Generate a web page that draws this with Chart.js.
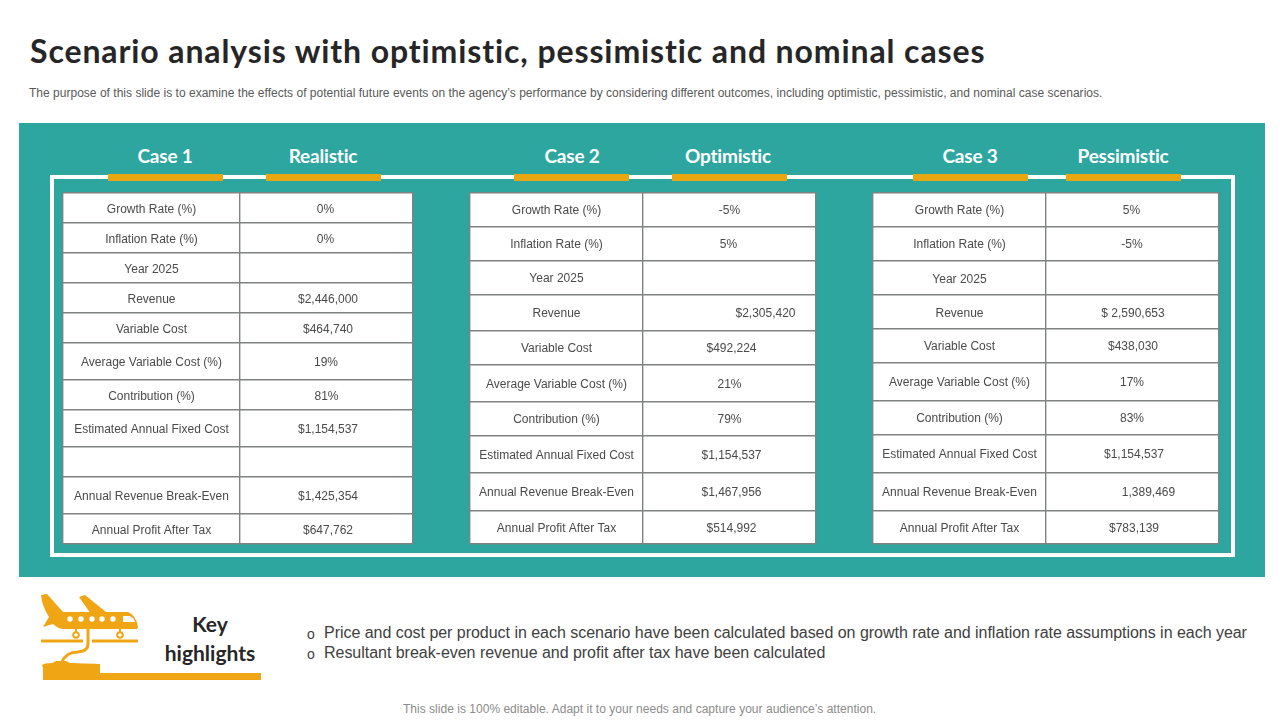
<!DOCTYPE html>
<html><head><meta charset="utf-8">
<script src="https://cdn.jsdelivr.net/npm/chart.js@4"></script>
<style>
html,body{margin:0;padding:0;background:#fff;width:1280px;height:720px;overflow:hidden}
.t{position:absolute;white-space:nowrap;line-height:1}
.p{position:absolute}
canvas{position:absolute}
.head{color:#fff;font:700 19px Lato,sans-serif;transform:translateX(-50%);top:144px;letter-spacing:-.2px}
.bar{position:absolute;top:174px;height:7px;width:115px;background:#E8A710}
</style></head><body>
<div class="t" id="title" style="left:30px;top:31px;font:700 32px Lato,sans-serif;color:#262626;letter-spacing:.89px">Scenario analysis with optimistic, pessimistic and nominal cases</div>
<div class="t" style="left:29px;top:86px;font:12px 'Liberation Sans',sans-serif;color:#595959;letter-spacing:.017px">The purpose of this slide is to examine the effects of potential future events on the agency’s performance by considering different outcomes, including optimistic, pessimistic, and nominal case scenarios.</div>
<div class="p" style="left:19px;top:123px;width:1246px;height:454px;background:#2CA69F"></div>
<div class="p" style="left:49.5px;top:175px;width:1177.5px;height:373.5px;border:4px solid #fff"></div>
<div id="heads"></div>
<svg class="p" style="left:0;top:0" width="300" height="700" viewBox="0 0 300 700" fill="#EFA514">
<path d="M41 595 L47 594 L63 612 L128 612 Q136 615 138 627 Q138 629 135 629 L64 629 Q58 629 53 624 L43 627 L49 617 Q42 606 41 595Z"/>
<path d="M79 597 L85 595 L106 612 L91 614Z"/>
<g fill="#fff"><circle cx="70" cy="619" r="2.7"/><circle cx="81" cy="619" r="2.7"/><circle cx="92" cy="619" r="2.7"/><circle cx="102" cy="619" r="2.7"/><circle cx="113" cy="619" r="2.7"/><path d="M123 616 L130 616 Q134 618 135 622 L123 622Z"/></g>
<g fill="none" stroke="#EFA514" stroke-width="2"><circle cx="76" cy="635" r="2.8"/><circle cx="120" cy="635" r="2.8"/><path d="M76 629V632M120 629V632"/></g>
<g stroke="#EFA514" stroke-width="3"><path d="M41 641H83M92 641H138"/></g>
<path d="M88 628 V644 Q88 651 78 652 Q66 652 62 662" fill="none" stroke="#EFA514" stroke-width="3"/>
<path d="M42 665 Q44 663 52 663 L56 661 L66 661 L70 663 L100 664 L100 673 L261 673 L261 680 L43 680 L43 668Z"/>
</svg>
<div class="t" style="left:210px;top:611px;transform:translateX(-50%);font:700 21px Lato,sans-serif;color:#262626">Key</div>
<div class="t" style="left:210px;top:640px;transform:translateX(-50%);font:700 21px Lato,sans-serif;color:#262626">highlights</div>
<div class="t" style="left:307px;top:626px;font:14px 'Liberation Sans',sans-serif;color:#404040">o</div>
<div class="t" style="left:307px;top:646px;font:14px 'Liberation Sans',sans-serif;color:#404040">o</div>
<div class="t" style="left:324px;top:624px;font:16px 'Liberation Sans',sans-serif;color:#404040;letter-spacing:-.03px">Price and cost per product in each scenario have been calculated based on growth rate and inflation rate assumptions in each year</div>
<div class="t" style="left:324px;top:644px;font:16px 'Liberation Sans',sans-serif;color:#404040;letter-spacing:-.03px">Resultant break-even revenue and profit after tax have been calculated</div>
<div class="t" style="left:403px;top:702px;font:12px 'Liberation Sans',sans-serif;color:#8c8c8c;letter-spacing:.02px">This slide is 100% editable. Adapt it to your needs and capture your audience’s attention.</div>
<canvas id="c1"></canvas><canvas id="c2"></canvas><canvas id="c3"></canvas>
<script>
// ---- content ----
const caseNames = ["Case 1","Case 2","Case 3"];
const scenarioNames = ["Realistic","Optimistic","Pessimistic"];
const rowLabels1 = ["Growth Rate (%)","Inflation Rate (%)","Year 2025","Revenue","Variable Cost","Average Variable Cost (%)","Contribution (%)","Estimated Annual Fixed Cost","","Annual Revenue Break-Even","Annual Profit After Tax"];
const rowLabels2 = ["Growth Rate (%)","Inflation Rate (%)","Year 2025","Revenue","Variable Cost","Average Variable Cost (%)","Contribution (%)","Estimated Annual Fixed Cost","Annual Revenue Break-Even","Annual Profit After Tax"];
const rowLabels3 = rowLabels2;
const values1 = ["0%","0%","","$2,446,000","$464,740","19%","81%","$1,154,537","","$1,425,354","$647,762"];
const values2 = ["-5%","5%","","$2,305,420","$492,224","21%","79%","$1,154,537","$1,467,956","$514,992"];
const values3 = ["5%","-5%","","$ 2,590,653","$438,030","17%","83%","$1,154,537","1,389,469","$783,139"];
// ---- table layout (separate from the content) ----
const rowHeights1 = [30,30,30,30,30,37,30,37,30,37,30];
const rowHeights2 = [33.6,34,33.7,36.3,33.7,37.7,33.6,37.4,37.3,33.7];
const rowHeights3 = [33.6,34.4,34,34,33.6,38,34,37.7,38,33.7];
const columnWidths1 = [177,173];
const columnWidths2 = [173,173];
const columnWidths3 = [173,173];
const valueNudge1 = [-1,-1,0,1.5,1.5,-.5,0,1.5,0,1.5,1.5];
const valueNudge2 = [0,-1,0,36,2,0,0,2,2,2];
const valueNudge3 = [-1,-.5,0,.5,.5,-.5,-.5,1.5,16,1.5];
const tableLefts = [63,470,873];
const tableTop = 193;
const headCenters = [165,323,572,728,970,1123];
const barLefts = [108,266,514,672,913,1066];

const heads = document.getElementById('heads');
headCenters.forEach((c,i)=>{
  const d=document.createElement('div');d.className='t head';d.style.left=c+'px';
  d.textContent = i%2===0 ? caseNames[i/2] : scenarioNames[(i-1)/2];
  heads.appendChild(d);
  const b=document.createElement('div');b.className='bar';b.style.left=barLefts[i]+'px';heads.appendChild(b);
});

const cellText = {
  id:'cellText',
  beforeDraw(ch){const a=ch.chartArea,c=ch.ctx;c.save();c.fillStyle='#fff';c.fillRect(a.left,a.top,a.width,a.height);c.restore();},
  afterDatasetsDraw(ch){
    const c=ch.ctx;c.save();c.font="12px 'Liberation Sans', sans-serif";c.fillStyle='#4a4a4a';c.textAlign='center';c.textBaseline='middle';
    ch.getDatasetMeta(0).data.forEach((el,i)=>{
      const t=ch.data.datasets[0].data[i].text;
      if(t) c.fillText(t,el.x,el.y+1.2);
    });
    c.restore();
  }
};
function makeTable(id,left,labels,vals,heights,cols,nudge){
  const PAD=3;
  const total=heights.reduce((s,v)=>s+v,0), tw=cols[0]+cols[1];
  const cv=document.getElementById(id);
  cv.width=tw+PAD*2;cv.height=Math.ceil(total)+PAD*2;
  cv.style.left=(left-PAD)+'px';cv.style.top=(tableTop-PAD)+'px';
  const edges=[0];heights.forEach(h=>edges.push(edges[edges.length-1]+h));
  const pts=[];
  labels.forEach((l,i)=>{
    const y=(edges[i]+edges[i+1])/2;
    pts.push({x:cols[0]/2,y:y,text:l});
    pts.push({x:cols[0]+cols[1]/2+nudge[i],y:y,text:vals[i]});
  });
  const grid={drawTicks:false,color:'#808282',lineWidth:1.4};
  new Chart(cv,{type:'scatter',
    data:{datasets:[{data:pts,pointRadius:0,pointHoverRadius:0,showLine:false}]},
    plugins:[cellText],
    options:{responsive:false,animation:false,devicePixelRatio:1,layout:{padding:PAD},
      events:[],
      plugins:{legend:{display:false},tooltip:{enabled:false}},
      scales:{
        x:{type:'linear',min:0,max:tw,grid,border:{display:false},ticks:{display:false},afterBuildTicks:s=>{s.ticks=[0,cols[0],tw].map(v=>({value:v}));}},
        y:{type:'linear',min:0,max:total,reverse:true,grid,border:{display:false},ticks:{display:false},afterBuildTicks:s=>{s.ticks=edges.map(v=>({value:v}));}}
      }}});
}
makeTable('c1',tableLefts[0],rowLabels1,values1,rowHeights1,columnWidths1,valueNudge1);
makeTable('c2',tableLefts[1],rowLabels2,values2,rowHeights2,columnWidths2,valueNudge2);
makeTable('c3',tableLefts[2],rowLabels3,values3,rowHeights3,columnWidths3,valueNudge3);
</script>
</body></html>
